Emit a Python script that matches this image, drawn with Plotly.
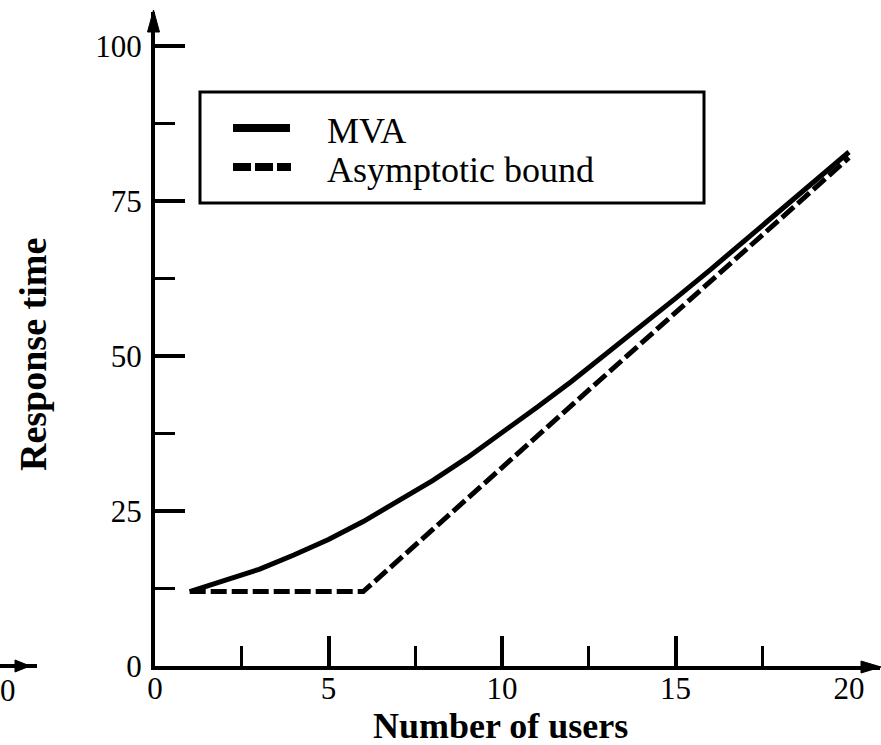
import plotly.graph_objects as go

# ---- data ----
users = [1, 2, 3, 4, 5, 6, 7, 8, 9, 10, 11, 12, 13, 14, 15, 16, 17, 18, 19, 20]
mva = [12.0, 13.7, 15.6, 17.9, 20.4, 23.3, 26.5, 29.9, 33.6, 37.6,
       41.7, 45.9, 50.3, 54.7, 59.3, 63.9, 68.6, 73.3, 78.1, 82.9]
asymptotic = [12, 12, 12, 12, 12, 12, 17, 22, 27, 32,
              37, 42, 47, 52, 57, 62, 67, 72, 77, 82]
x_label_vals = [0, 5, 10, 15, 20]
x_major_ticks = [5, 10, 15]
x_minor_ticks = [2.5, 7.5, 12.5, 17.5]
y_label_vals = [0, 25, 50, 75, 100]
y_minor_ticks = [12.5, 37.5, 62.5, 87.5]
series_names = ["MVA", "Asymptotic bound"]

# ---- layout geometry (pixels) ----
W, H = 881, 745
L, R, T, B = 155, 1, 12, 79
PW, PH = W - L - R, H - T - B
X_MAX = PW / 34.7
Y_MAX = PH / 6.2


def px(x):
    return (x - L) / PW


def py(y):
    return (H - B - y) / PH


FONT = "Liberation Serif"

fig = go.Figure()
fig.add_trace(go.Scatter(x=users, y=mva, mode="lines", name=series_names[0],
                         line=dict(color="black", width=5),
                         showlegend=False, hoverinfo="skip"))
fig.add_trace(go.Scatter(x=users, y=asymptotic, mode="lines", name=series_names[1],
                         xaxis="x2",
                         line=dict(color="black", width=5, dash="16px,5px"),
                         showlegend=False, hoverinfo="skip"))

common = dict(showgrid=False, zeroline=False, fixedrange=True)
fig.update_layout(
    width=W, height=H,
    margin=dict(l=L, r=R, t=T, b=B, pad=0),
    paper_bgcolor="white", plot_bgcolor="white",
    xaxis=dict(range=[0, X_MAX], showline=True, linewidth=4, linecolor="black",
               tickmode="array", tickvals=x_label_vals,
               ticktext=[str(v) for v in x_label_vals], ticks="",
               tickfont=dict(family=FONT, size=31, color="black"),
               ticklabelstandoff=-8, **common),
    xaxis2=dict(range=[0, X_MAX], overlaying="x", anchor="y", side="bottom",
                showline=False, tickmode="array", tickvals=x_major_ticks,
                ticks="inside", ticklen=30, tickwidth=4, tickcolor="black",
                showticklabels=False,
                minor=dict(tickmode="array", tickvals=x_minor_ticks, ticks="inside",
                           ticklen=20, tickwidth=3, tickcolor="black"),
                **common),
    yaxis=dict(range=[0, Y_MAX], showline=True, linewidth=4, linecolor="black",
               tickmode="array", tickvals=y_label_vals,
               ticktext=[str(v) for v in y_label_vals],
               ticks="inside", ticklen=30, tickwidth=4, tickcolor="black",
               minor=dict(tickmode="array", tickvals=y_minor_ticks, ticks="inside",
                          ticklen=20, tickwidth=3, tickcolor="black"),
               tickfont=dict(family=FONT, size=31, color="black"),
               ticklabelstandoff=3, **common),
)

shapes = []


def tri(p1, p2, p3):
    return dict(type="path", xref="paper", yref="paper",
                path=f"M{px(p1[0])},{py(p1[1])} L{px(p2[0])},{py(p2[1])} L{px(p3[0])},{py(p3[1])} Z",
                fillcolor="black", line=dict(color="black", width=1))


# axis arrowheads
shapes.append(tri((881, 667), (861, 661), (861, 673)))
shapes.append(tri((153.5, 10), (147.5, 32), (159.5, 32)))
# fragment at the far left
shapes.append(dict(type="line", xref="paper", yref="paper",
                   x0=px(0), x1=px(37), y0=py(666), y1=py(666),
                   line=dict(color="black", width=4)))
shapes.append(tri((30, 666), (15, 660), (15, 672)))
# legend box
shapes.append(dict(type="rect", xref="paper", yref="paper",
                   x0=px(200), x1=px(704), y0=py(203), y1=py(92),
                   line=dict(color="black", width=3), fillcolor="white", layer="above"))
shapes.append(dict(type="line", xref="paper", yref="paper",
                   x0=px(233), x1=px(290), y0=py(128), y1=py(128),
                   line=dict(color="black", width=8)))
shapes.append(dict(type="line", xref="paper", yref="paper",
                   x0=px(233), x1=px(291), y0=py(167), y1=py(167),
                   line=dict(color="black", width=8, dash="18px,4px")))
fig.update_layout(shapes=shapes)

annotations = [
    dict(text="MVA", x=px(325), y=py(131), xanchor="left", yanchor="middle"),
    dict(text="Asymptotic bound", x=px(325), y=py(170), xanchor="left", yanchor="middle"),
    dict(text="<b>Number of users</b>", x=px(500), y=py(726), xanchor="center", yanchor="middle",
         font=dict(family=FONT, size=36, color="black")),
    dict(text="<b>Response time</b>", x=px(33), y=py(355), xanchor="center", yanchor="middle",
         textangle=-90, font=dict(family=FONT, size=38, color="black")),
    dict(text="0", x=px(8), y=py(690), xanchor="center", yanchor="middle",
         font=dict(family=FONT, size=31, color="black")),
]
for a in annotations:
    a.update(xref="paper", yref="paper", showarrow=False)
    a.setdefault("font", dict(family=FONT, size=36, color="black"))
fig.update_layout(annotations=annotations)

fig.write_html("out.html", config={"displayModeBar": False},
               post_script="document.body.style.margin='0';document.body.style.overflow='hidden';")
